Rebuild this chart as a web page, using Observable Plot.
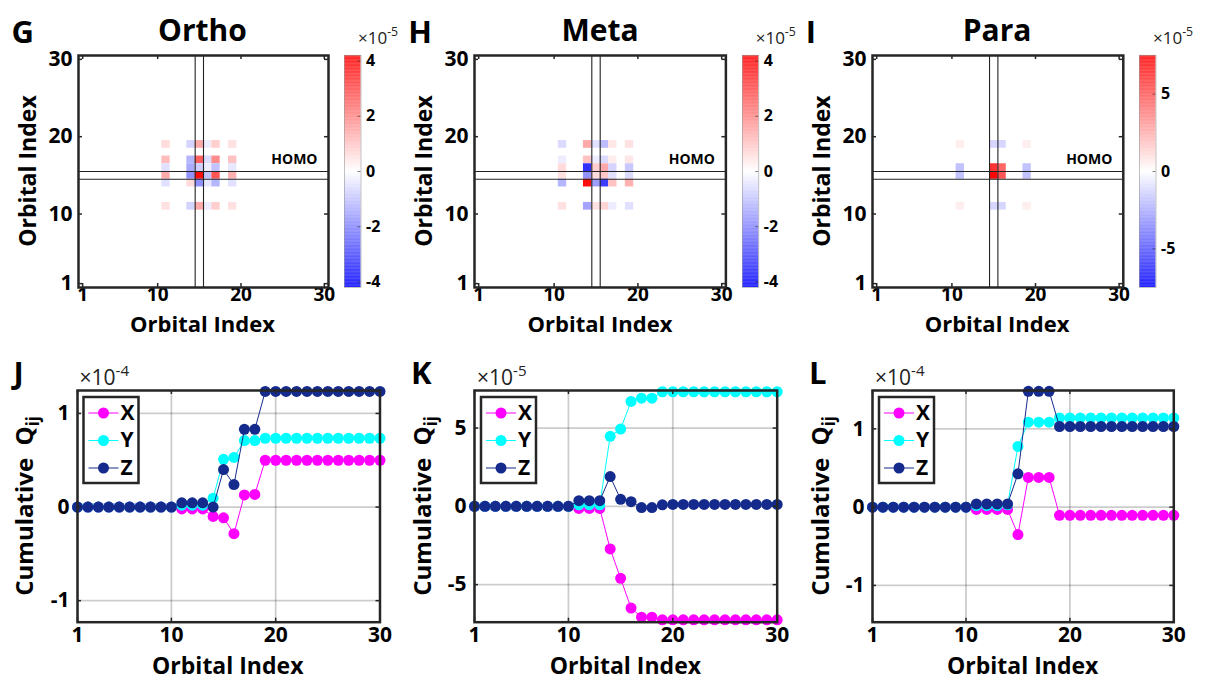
<!DOCTYPE html>
<html><head><meta charset="utf-8">
<script src="https://cdn.jsdelivr.net/npm/d3@7"></script>
<script src="https://cdn.jsdelivr.net/npm/@observablehq/plot@0.6"></script>
<style>
body{margin:0;background:#fff;}
#fig{position:relative;width:1224px;height:690px;overflow:hidden;background:#fff;}
#fig svg{position:absolute;overflow:visible;}
</style></head><body><div id="fig"></div>
<script>
// ---------------- DATA ----------------
const panels = ["Ortho", "Meta", "Para"];
const topLetters = ["G", "H", "I"];
const botLetters = ["J", "K", "L"];
const HOMO = 15;
const orbitalIndex = [1,2,3,4,5,6,7,8,9,10,11,12,13,14,15,16,17,18,19,20,21,22,23,24,25,26,27,28,29,30];
const axisTicks = [1, 10, 20, 30];

// heatmap cells: [row, col, value] in units of the colorbar exponent
const orthoCells = [
  [19,11,0.6],[19,14,-0.7],[19,15,1.4],[19,16,-0.3],[19,17,0.8],[19,19,0.5],
  [17,11,1.1],[17,14,-1.2],[17,15,2.6],[17,16,-0.6],[17,17,1.9],[17,19,1.0],
  [16,11,-0.5],[16,14,-1.4],[16,15,-0.8],[16,16,-0.3],[16,17,-1.0],[16,19,-0.4],
  [15,11,1.4],[15,14,-1.8],[15,15,4.0],[15,16,-1.0],[15,17,2.8],[15,19,1.3],
  [14,11,-0.5],[14,14,0.6],[14,15,-1.8],[14,16,-0.4],[14,17,-1.2],[14,19,-0.5],
  [11,11,0.5],[11,14,-0.7],[11,15,1.4],[11,16,-0.3],[11,17,0.8],[11,19,0.5]
];
const metaCells = [
  [19,11,-0.6],[19,14,1.4],[19,15,-0.5],[19,16,-1.1],[19,17,0.4],[19,19,0.5],
  [17,11,-0.3],[17,14,1.0],[17,15,-0.3],[17,16,-0.6],[17,17,0.3],[17,19,0.4],
  [16,11,0.6],[16,14,-3.4],[16,15,0.8],[16,16,1.4],[16,17,-0.7],[16,19,-0.9],
  [15,11,0.5],[15,14,-1.8],[15,15,0.6],[15,16,0.9],[15,17,-0.5],[15,19,-0.6],
  [14,11,-1.2],[14,14,4.0],[14,15,-1.6],[14,16,-3.2],[14,17,1.0],[14,19,1.3],
  [11,11,0.5],[11,14,-1.5],[11,15,0.5],[11,16,0.7],[11,17,-0.3],[11,19,-0.5]
];
const paraCells = [
  [19,11,0.5],[19,15,-1.2],[19,16,-1.2],[19,19,0.5],
  [16,11,-1.8],[16,15,6.0],[16,16,4.5],[16,19,-1.8],
  [15,11,-1.8],[15,15,7.3],[15,16,5.0],[15,19,-1.8],
  [11,11,0.5],[11,15,-1.2],[11,16,-1.2],[11,19,0.5]
];
const colorLimits = [4.2, 4.2, 7.5];
const colorTicks = [[-4,-2,0,2,4], [-4,-2,0,2,4], [-5,0,5]];
const colorExponents = ["-5", "-5", "-5"];

// cumulative Q_ij series (units of the axis exponent)
const orthoX = [0,0,0,0,0,0,0,0,0,0,-0.02,-0.02,-0.02,-0.10,-0.115,-0.285,0.13,0.135,0.50,0.50,0.50,0.50,0.50,0.50,0.50,0.50,0.50,0.50,0.50,0.50];
const orthoY = [0,0,0,0,0,0,0,0,0,0,0.02,0.02,0.02,0.095,0.51,0.53,0.71,0.71,0.735,0.735,0.735,0.735,0.735,0.735,0.735,0.735,0.735,0.735,0.735,0.735];
const orthoZ = [0,0,0,0,0,0,0,0,0,0,0.045,0.045,0.045,0.0,0.40,0.24,0.83,0.83,1.235,1.235,1.235,1.235,1.235,1.235,1.235,1.235,1.235,1.235,1.235,1.235];
const metaX = [0,0,0,0,0,0,0,0,0,0,-0.13,-0.13,-0.13,-2.72,-4.6,-6.5,-7.08,-7.08,-7.25,-7.25,-7.25,-7.25,-7.25,-7.25,-7.25,-7.25,-7.25,-7.25,-7.25,-7.25];
const metaY = [0,0,0,0,0,0,0,0,0,0,0.1,0.1,0.1,4.47,4.94,6.7,6.91,6.91,7.32,7.32,7.32,7.32,7.32,7.32,7.32,7.32,7.32,7.32,7.32,7.32];
const metaZ = [0,0,0,0,0,0,0,0,0,0,0.36,0.36,0.36,1.9,0.45,0.3,-0.08,-0.08,0.1,0.12,0.12,0.12,0.12,0.12,0.12,0.12,0.12,0.12,0.12,0.12];
const paraX = [0,0,0,0,0,0,0,0,0,0,-0.03,-0.03,-0.03,-0.03,-0.35,0.38,0.38,0.38,-0.105,-0.105,-0.105,-0.105,-0.105,-0.105,-0.105,-0.105,-0.105,-0.105,-0.105,-0.105];
const paraY = [0,0,0,0,0,0,0,0,0,0,0.02,0.02,0.02,0.03,0.775,1.085,1.085,1.085,1.14,1.14,1.14,1.14,1.14,1.14,1.14,1.14,1.14,1.14,1.14,1.14];
const paraZ = [0,0,0,0,0,0,0,0,0,0,0.04,0.04,0.04,0.04,0.425,1.48,1.48,1.48,1.03,1.03,1.03,1.03,1.03,1.03,1.03,1.03,1.03,1.03,1.03,1.03];
const seriesNames = ["X", "Y", "Z"];
const seriesColors = ["#ff00ff", "#00ffff", "#142a8c"];
const cumYDomains = [[-1.23, 1.245], [-7.4, 7.4], [-1.47, 1.49]];
const cumYTicks = [[-1, 0, 1], [-5, 0, 5], [-1, 0, 1]];
const cumExponents = ["-4", "-5", "-4"];

// ---------------- LAYOUT ----------------
const FONT = "'Open Sans', 'Liberation Sans', sans-serif";
const topFrames = [[77.5,55,327.5,287],[474.3,55,725.7,287],[871.7,55,1122.5,287]];
const cbFrames = [[344,55,360.5,287],[741.7,55,758,287],[1139,55,1155.5,287]];
const botFrames = [[76.5,390,379,621.7],[474,390,776.7,621.7],[872,390,1173.3,621.7]];
const fig = document.getElementById("fig");
const AX = "#262626";

function place(svg, frame, m) {
  svg.style.left = (frame[0] - m.left) + "px";
  svg.style.top = (frame[1] - m.top) + "px";
  fig.appendChild(svg);
}
function inwardTicks(xt, yt, fw, fh, len) {
  const s = {stroke: AX, strokeWidth: 1.5};
  return [
    Plot.tickX(xt, {x: d => d, insetTop: fh - len, ...s}),
    Plot.tickX(xt, {x: d => d, insetBottom: fh - len, ...s}),
    Plot.tickY(yt, {y: d => d, insetRight: fw - len, ...s}),
    Plot.tickY(yt, {y: d => d, insetLeft: fw - len, ...s})
  ];
}
const colorScale = lim => ({type: "linear", domain: [-lim, 0, lim], range: ["#0000ff", "#ffffff", "#ff0000"], interpolate: "rgb"});

// heatmaps
[orthoCells, metaCells, paraCells].forEach((cells, i) => {
  const f = topFrames[i], fw = f[2]-f[0], fh = f[3]-f[1];
  const m = {top: 6, right: 6, bottom: 30, left: 52};
  const svg = Plot.plot({
    width: fw + m.left + m.right, height: fh + m.top + m.bottom,
    marginTop: m.top, marginRight: m.right, marginBottom: m.bottom, marginLeft: m.left,
    x: {domain: [0.5, 30.5]}, y: {domain: [0.5, 30.5]},
    color: colorScale(colorLimits[i]),
    style: {fontFamily: FONT, background: "transparent", color: "#000"},
    marks: [
      Plot.rect(cells, {x1: d => d[1]-0.5, x2: d => d[1]+0.5, y1: d => d[0]-0.5, y2: d => d[0]+0.5, fill: d => d[2]}),
      Plot.ruleX([HOMO-0.5, HOMO+0.5], {stroke: "#222", strokeWidth: 1.1}),
      Plot.ruleY([HOMO-0.5, HOMO+0.5], {stroke: "#222", strokeWidth: 1.1}),
      Plot.text(["HOMO"], {text: d => d, y: [HOMO+0.5], frameAnchor: "right", textAnchor: "end", dx: -11, dy: -12, fontSize: 14, fontWeight: "bold", fill: "#000"}),
      ...inwardTicks(axisTicks, axisTicks, fw, fh, 4),
      Plot.axisX(axisTicks, {tickSize: 0, tickPadding: 0, fontSize: 19, fontWeight: "bold", label: null, fill: "#000"}),
      Plot.axisY(axisTicks, {tickSize: 0, tickPadding: 6, fontSize: 21, fontWeight: "bold", label: null, fill: "#000"}),
      Plot.frame({stroke: AX, strokeWidth: 2.5})
    ]
  });
  place(svg, f, m);
});

// colorbars
colorLimits.forEach((lim, i) => {
  const f = cbFrames[i], fw = f[2]-f[0], fh = f[3]-f[1];
  const m = {top: 6, right: 40, bottom: 6, left: 2};
  const step = lim / 150;
  const strips = d3.range(-lim, lim, step);
  const svg = Plot.plot({
    width: fw + m.left + m.right, height: fh + m.top + m.bottom,
    marginTop: m.top, marginRight: m.right, marginBottom: m.bottom, marginLeft: m.left,
    y: {domain: [-lim, lim]},
    color: colorScale(lim),
    style: {fontFamily: FONT, background: "transparent", color: "#000"},
    marks: [
      Plot.rect(strips, {y1: d => d, y2: d => d + step * 1.05, fill: d => d + step/2}),
      Plot.tickY(colorTicks[i], {y: d => d, insetLeft: fw - 3, stroke: AX, strokeOpacity: 0.6}),
      Plot.axisY(colorTicks[i], {anchor: "right", tickSize: 0, tickPadding: 5, fontSize: 16, fontWeight: "bold", label: null, tickFormat: d => String(d), fill: "#000"}),
      Plot.frame({stroke: "#999", strokeWidth: 0.6})
    ]
  });
  place(svg, f, m);
});

// cumulative plots
const cumSeries = [[orthoX, orthoY, orthoZ], [metaX, metaY, metaZ], [paraX, paraY, paraZ]];
cumSeries.forEach((ser, i) => {
  const f = botFrames[i], fw = f[2]-f[0], fh = f[3]-f[1];
  const m = {top: 8, right: 8, bottom: 34, left: 48};
  const marks = [
    Plot.gridX(axisTicks, {stroke: "#000", strokeOpacity: 0.2, strokeWidth: 1.8}),
    Plot.gridY(cumYTicks[i], {stroke: "#000", strokeOpacity: 0.2, strokeWidth: 1.8})
  ];
  ser.forEach((vals, k) => {
    const data = orbitalIndex.map((o, j) => ({o, v: vals[j]}));
    marks.push(Plot.line(data, {x: "o", y: "v", stroke: seriesColors[k], strokeWidth: 1}));
    marks.push(Plot.dot(data, {x: "o", y: "v", r: 5.5, fill: seriesColors[k], stroke: "none"}));
  });
  marks.push(
    ...inwardTicks(axisTicks, cumYTicks[i], fw, fh, 4),
    Plot.axisX(axisTicks, {tickSize: 0, tickPadding: 5, fontSize: 21, fontWeight: "bold", label: null, fill: "#000"}),
    Plot.axisY(cumYTicks[i], {tickSize: 0, tickPadding: 8, fontSize: 21, fontWeight: "bold", label: null, tickFormat: d => String(d), fill: "#000"}),
    Plot.frame({stroke: AX, strokeWidth: 2.5})
  );
  const svg = Plot.plot({
    width: fw + m.left + m.right, height: fh + m.top + m.bottom,
    marginTop: m.top, marginRight: m.right, marginBottom: m.bottom, marginLeft: m.left,
    x: {domain: [1, 30]}, y: {domain: cumYDomains[i]},
    style: {fontFamily: FONT, background: "transparent", color: "#000"},
    marks
  });
  place(svg, f, m);
});

// ---------------- TEXT OVERLAY ----------------
const ov = d3.select(fig).append("svg").attr("width", 1224).attr("height", 690)
  .style("left", "0px").style("top", "0px").style("font-family", FONT).style("pointer-events", "none");
function txt(x, y, s, {size = 22, weight = 700, anchor = "middle", rotate = 0, baseline = "middle"} = {}) {
  const t = ov.append("text").attr("x", x).attr("y", y).attr("font-size", size).attr("font-weight", weight)
    .attr("text-anchor", anchor).attr("dominant-baseline", baseline).attr("fill", "#000").text(s);
  if (rotate) t.attr("transform", `rotate(${rotate},${x},${y})`);
  return t;
}
function expLabel(x, yBase, e, size) {
  const t = ov.append("text").attr("x", x).attr("y", yBase).attr("font-size", size).attr("font-weight", 400).attr("fill", "#222");
  t.append("tspan").text("\u00d710");
  t.append("tspan").attr("dy", -size * 0.45).attr("font-size", size * 0.72).text(e);
}
panels.forEach((p, i) => {
  const tf = topFrames[i], bf = botFrames[i];
  txt((tf[0]+tf[2])/2, 33, p, {size: 30});
  txt(tf[0] - 66, 35, topLetters[i], {size: 31, anchor: "start"});
  txt(bf[0] - 63, 376, botLetters[i], {size: 31, anchor: "start"});
  txt(tf[0] - 48, (tf[1]+tf[3])/2, "Orbital Index", {size: 23, rotate: -90});
  txt((tf[0]+tf[2])/2, 326, "Orbital Index", {size: 22});
  txt((bf[0]+bf[2])/2, 668, "Orbital Index", {size: 23});
  // cumulative y label
  const cx = bf[0] - 49, cy = (bf[1]+bf[3])/2;
  const t = ov.append("text").attr("x", cx).attr("y", cy).attr("font-size", 24).attr("font-weight", 700)
    .attr("text-anchor", "middle").attr("dominant-baseline", "middle").attr("fill", "#000")
    .style("white-space", "pre")
    .attr("transform", `rotate(-90,${cx},${cy})`);
  t.append("tspan").text("Cumulative  Q");
  t.append("tspan").attr("dy", 7).attr("font-size", 17).text("ij");
  expLabel(cbFrames[i][0] + 14, 44, colorExponents[i], 17);
  expLabel(bf[0] + 3, 385, cumExponents[i], 21);
  // legend
  const lx = bf[0] + 7, ly = bf[1] + 7;
  ov.append("rect").attr("x", lx).attr("y", ly).attr("width", 55).attr("height", 86)
    .attr("fill", "#fff").attr("stroke", AX).attr("stroke-width", 2.5);
  seriesNames.forEach((n, k) => {
    const yy = ly + 16 + k * 27.5;
    ov.append("line").attr("x1", lx + 5).attr("x2", lx + 35).attr("y1", yy).attr("y2", yy).attr("stroke", seriesColors[k]).attr("stroke-width", 1);
    ov.append("circle").attr("cx", lx + 20).attr("cy", yy).attr("r", 5.5).attr("fill", seriesColors[k]);
    txt(lx + 37, yy + 1, n, {size: 21, anchor: "start"});
  });
});
</script></body></html>
